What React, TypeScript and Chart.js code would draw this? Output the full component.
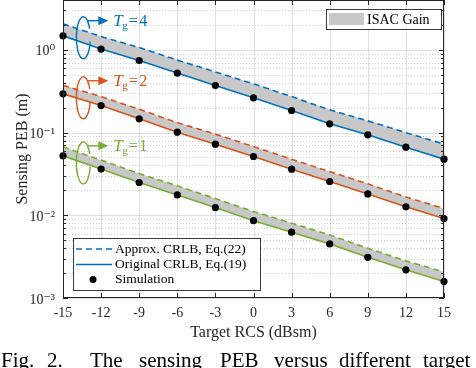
import React, { useEffect, useRef } from 'react';
import { Chart, registerables } from 'chart.js';

Chart.register(...registerables);

const rcs = [-15, -12, -9, -6, -3, 0, 3, 6, 9, 12, 15];

const approxTg4 = [2.06, 1.445, 1.066, 0.751, 0.54, 0.388, 0.272, 0.188, 0.1384, 0.0998, 0.0724];
const origTg4 = [1.476, 1.02, 0.743, 0.523, 0.37, 0.263, 0.1846, 0.1274, 0.0938, 0.0666, 0.0477];
const simTg4 = [1.476, 1.02, 0.743, 0.523, 0.37, 0.263, 0.1846, 0.1274, 0.0938, 0.0666, 0.0477];

const approxTg2 = [0.372, 0.272, 0.191, 0.132, 0.0957, 0.0677, 0.0477, 0.0337, 0.024, 0.01667, 0.01205];
const origTg2 = [0.294, 0.212, 0.1465, 0.101, 0.0724, 0.0513, 0.0361, 0.0256, 0.0181, 0.01264, 0.00912];
const simTg2 = [0.294, 0.212, 0.1465, 0.101, 0.0724, 0.0513, 0.0361, 0.0256, 0.0181, 0.01264, 0.00912];

const approxTg1 = [0.0671, 0.0464, 0.0319, 0.0227, 0.0159, 0.0111, 0.00802, 0.00579, 0.004, 0.00281, 0.00206];
const origTg1 = [0.0523, 0.0362, 0.0249, 0.0176, 0.0124, 0.0086, 0.00625, 0.00451, 0.00311, 0.00219, 0.00158];
const simTg1 = [0.0523, 0.0362, 0.0249, 0.0176, 0.0124, 0.0086, 0.00625, 0.00451, 0.00311, 0.00219, 0.00158];

const groupLabels = ['4', '2', '1'];
const annotationX = -13.4;
const annotationY = [1.4, 0.263, 0.043];

const legendLabels = ['Approx. CRLB, Eq.(22)', 'Original CRLB, Eq.(19)', 'Simulation'];
const gainLabel = 'ISAC Gain';
const xTitle = 'Target RCS (dBsm)';
const yTitle = 'Sensing PEB (m)';
const captionWords = ['Fig.', '2.', 'The', 'sensing', 'PEB', 'versus', 'different', 'target'];
const captionLeft = [1, 47, 90, 139, 220, 274, 339, 423];

const BLUE = 'rgb(0,114,189)';
const ORANGE = 'rgb(217,83,25)';
const GREEN = 'rgb(119,172,48)';
const GRAY = 'rgb(200,200,200)';
const DARK = '#262626';
const SERIF = '"Liberation Serif", "DejaVu Serif", serif';
const colors = [BLUE, ORANGE, GREEN];

const SUP: Record<string, string> = {
  '0': '\u2070', '1': '\u00b9', '2': '\u00b2', '3': '\u00b3', '4': '\u2074',
  '5': '\u2075', '6': '\u2076', '7': '\u2077', '8': '\u2078', '9': '\u2079', '-': '\u207b',
};
const sup = (n: number) => String(n).split('').map((c) => SUP[c] || c).join('');

const pts = (ys: number[]) => rcs.map((x, i) => ({ x, y: ys[i] }));

const decorPlugin = {
  id: 'decor',
  beforeDraw(chart: any) {
    const { ctx, chartArea } = chart;
    const { left, right, top, bottom } = chartArea;
    const xs = chart.scales.x;
    const ys = chart.scales.y;
    ctx.save();
    ctx.lineWidth = 1;
    ctx.strokeStyle = 'rgba(38,38,38,0.22)';
    ctx.setLineDash([1, 2]);
    for (let d = -3; d <= 0; d++) {
      for (let k = 2; k <= 9; k++) {
        const v = k * Math.pow(10, d);
        if (v > ys.max) break;
        const y = Math.round(ys.getPixelForValue(v)) + 0.5;
        ctx.beginPath();
        ctx.moveTo(left, y);
        ctx.lineTo(right, y);
        ctx.stroke();
      }
    }
    ctx.setLineDash([]);
    ctx.strokeStyle = 'rgba(38,38,38,0.14)';
    rcs.forEach((v) => {
      const x = Math.round(xs.getPixelForValue(v)) + 0.5;
      ctx.beginPath();
      ctx.moveTo(x, top);
      ctx.lineTo(x, bottom);
      ctx.stroke();
    });
    for (let d = -3; d <= 0; d++) {
      const y = Math.round(ys.getPixelForValue(Math.pow(10, d))) + 0.5;
      ctx.beginPath();
      ctx.moveTo(left, y);
      ctx.lineTo(right, y);
      ctx.stroke();
    }
    ctx.restore();
  },
  afterDatasetsDraw(chart: any) {
    const { ctx, chartArea } = chart;
    const { left, right, top, bottom } = chartArea;
    const xs = chart.scales.x;
    const ys = chart.scales.y;
    ctx.save();
    ctx.strokeStyle = DARK;
    ctx.lineWidth = 1;
    ctx.setLineDash([]);
    ctx.strokeRect(left + 0.5, top + 0.5, right - left - 1, bottom - top - 1);
    rcs.forEach((v) => {
      const x = Math.round(xs.getPixelForValue(v)) + 0.5;
      ctx.beginPath();
      ctx.moveTo(x, bottom);
      ctx.lineTo(x, bottom - 5);
      ctx.moveTo(x, top);
      ctx.lineTo(x, top + 5);
      ctx.stroke();
    });
    for (let d = -3; d <= 0; d++) {
      for (let k = 1; k <= 9; k++) {
        const v = k * Math.pow(10, d);
        if (v > ys.max) break;
        const len = k === 1 ? 5 : 3;
        const y = Math.round(ys.getPixelForValue(v)) + 0.5;
        ctx.beginPath();
        ctx.moveTo(left, y);
        ctx.lineTo(left + len, y);
        ctx.moveTo(right, y);
        ctx.lineTo(right - len, y);
        ctx.stroke();
      }
    }

    const cx = xs.getPixelForValue(annotationX);
    annotationY.forEach((val, i) => {
      const cy = ys.getPixelForValue(val);
      const col = colors[i];
      ctx.strokeStyle = col;
      ctx.fillStyle = col;
      ctx.lineWidth = 1.4;
      ctx.beginPath();
      ctx.ellipse(cx, cy, 7, 21, 0, (10 * Math.PI) / 180, (335 * Math.PI) / 180, false);
      ctx.stroke();
      const ax0 = cx + 4;
      const ay = cy - 17;
      const ax1 = cx + 25;
      ctx.beginPath();
      ctx.moveTo(ax0, ay);
      ctx.lineTo(ax1 - 6, ay);
      ctx.stroke();
      ctx.beginPath();
      ctx.moveTo(ax1, ay);
      ctx.lineTo(ax1 - 10, ay - 4.5);
      ctx.lineTo(ax1 - 10, ay + 4.5);
      ctx.closePath();
      ctx.fill();
      let tx = cx + 30;
      const by = ay + 5.5;
      ctx.textBaseline = 'alphabetic';
      ctx.textAlign = 'left';
      ctx.font = `italic 17px ${SERIF}`;
      ctx.fillText('T', tx, by);
      tx += ctx.measureText('T').width - 0.5;
      ctx.font = `11px ${SERIF}`;
      ctx.fillText('g', tx, by + 3);
      tx += ctx.measureText('g').width + 1;
      ctx.font = `16px ${SERIF}`;
      ctx.fillText('=', tx, by);
      tx += ctx.measureText('=').width + 1.5;
      ctx.fillText(groupLabels[i], tx, by);
    });

    ctx.lineWidth = 1;
    ctx.fillStyle = '#ffffff';
    ctx.fillRect(326, 9, 116, 21);
    ctx.strokeStyle = '#3a3a3a';
    ctx.strokeRect(326.5, 9.5, 115, 20);
    ctx.fillStyle = GRAY;
    ctx.fillRect(329, 13, 35, 12);
    ctx.fillStyle = '#000';
    ctx.font = `14px ${SERIF}`;
    ctx.textBaseline = 'middle';
    ctx.fillText(gainLabel, 367, 20);

    ctx.fillStyle = '#ffffff';
    ctx.fillRect(73, 238, 188, 53);
    ctx.strokeStyle = '#3a3a3a';
    ctx.strokeRect(73.5, 238.5, 187, 52);
    const rows = [249, 264.5, 279.5];
    ctx.strokeStyle = BLUE;
    ctx.lineWidth = 1.6;
    ctx.setLineDash([6, 4]);
    ctx.beginPath();
    ctx.moveTo(76, rows[0]);
    ctx.lineTo(112, rows[0]);
    ctx.stroke();
    ctx.setLineDash([]);
    ctx.beginPath();
    ctx.moveTo(76, rows[1]);
    ctx.lineTo(112, rows[1]);
    ctx.stroke();
    ctx.fillStyle = '#000';
    ctx.beginPath();
    ctx.arc(93, rows[2], 3.5, 0, Math.PI * 2);
    ctx.fill();
    ctx.font = `13.5px ${SERIF}`;
    ctx.textBaseline = 'middle';
    legendLabels.forEach((t, i) => ctx.fillText(t, 115, rows[i]));
    ctx.restore();
  },
};

export default function App() {
  const ref = useRef<HTMLCanvasElement>(null);
  useEffect(() => {
    if (!ref.current) return;
    const lineDs = (data: number[], color: string, dashed: boolean, fillTarget?: number) => ({
      data: pts(data),
      borderColor: color,
      backgroundColor: GRAY,
      borderWidth: 1.6,
      borderDash: dashed ? [6, 4] : [],
      pointRadius: 0,
      tension: 0,
      showLine: true,
      fill: fillTarget === undefined ? false : fillTarget,
    });
    const dotDs = (data: number[]) => ({
      data: pts(data),
      showLine: false,
      pointRadius: 3.6,
      pointBackgroundColor: '#000',
      pointBorderColor: '#000',
      borderColor: '#000',
      backgroundColor: '#000',
      pointBorderWidth: 0,
      clip: false,
      fill: false,
    });
    const chart = new Chart(ref.current, {
      type: 'line',
      data: {
        datasets: [
          dotDs(simTg4),
          dotDs(simTg2),
          dotDs(simTg1),
          lineDs(origTg4, BLUE, false),
          lineDs(origTg2, ORANGE, false),
          lineDs(origTg1, GREEN, false),
          lineDs(approxTg4, BLUE, true, 3),
          lineDs(approxTg2, ORANGE, true, 4),
          lineDs(approxTg1, GREEN, true, 5),
        ] as any,
      },
      options: {
        responsive: false,
        devicePixelRatio: 1,
        animation: false,
        events: [],
        layout: { autoPadding: false, padding: { left: 0, right: 32, top: 0, bottom: 0 } },
        plugins: {
          legend: { display: false },
          tooltip: { enabled: false },
          filler: { drawTime: 'beforeDatasetsDraw' } as any,
        },
        scales: {
          x: {
            type: 'linear',
            min: -15,
            max: 15,
            afterFit: (s: any) => {
              s.height = 70;
              s.paddingLeft = 0;
              s.paddingRight = 0;
            },
            grid: { display: false, drawTicks: false },
            border: { display: false },
            ticks: {
              stepSize: 3,
              autoSkip: false,
              maxRotation: 0,
              padding: 7,
              color: DARK,
              font: { family: SERIF, size: 14 },
              callback: (v: any) => String(v),
            },
            title: {
              display: true,
              text: xTitle,
              color: DARK,
              font: { family: SERIF, size: 16 },
              padding: { top: 0, bottom: 26 },
            },
          },
          y: {
            type: 'logarithmic',
            min: 0.001,
            max: 4,
            afterFit: (s: any) => {
              s.width = 63;
              s.paddingTop = 0;
              s.paddingBottom = 0;
            },
            grid: { display: false, drawTicks: false },
            border: { display: false },
            ticks: {
              autoSkip: false,
              padding: 8,
              labelOffset: 2,
              color: DARK,
              font: { family: SERIF, size: 14 },
              callback: (v: any) => {
                const l = Math.log10(Number(v));
                const r = Math.round(l);
                return Math.abs(l - r) < 1e-6 ? '10' + sup(r) : '';
              },
            },
            title: {
              display: true,
              text: yTitle,
              color: DARK,
              font: { family: SERIF, size: 16 },
              padding: { top: 13, bottom: 0 },
            },
          },
        },
      } as any,
      plugins: [decorPlugin],
    });
    return () => chart.destroy();
  }, []);

  return (
    <div
      style={{
        position: 'absolute',
        left: 0,
        top: 0,
        width: 476,
        height: 368,
        background: '#fff',
        overflow: 'hidden',
      }}
    >
      <canvas
        ref={ref}
        width={476}
        height={368}
        style={{ position: 'absolute', left: 0, top: 0, width: 476, height: 368 }}
      />
      {captionWords.map((w, i) => (
        <span
          key={i}
          style={{
            position: 'absolute',
            left: captionLeft[i],
            top: 350,
            fontFamily: SERIF,
            fontSize: 21,
            lineHeight: '21px',
            color: '#000',
            whiteSpace: 'nowrap',
          }}
        >
          {w}
        </span>
      ))}
    </div>
  );
}
